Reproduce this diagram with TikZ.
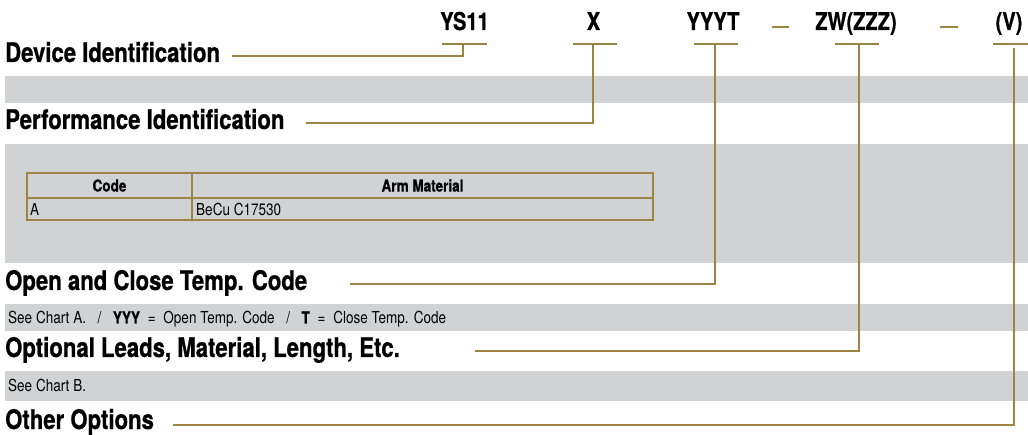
\documentclass[tikz,border=0pt]{standalone}
\usepackage{fontspec}
\setmainfont{TeX Gyre Heros}[FakeStretch=0.82, BoldFeatures={FakeBold=0.8}]
\definecolor{gold}{HTML}{9B8444}
\definecolor{bandgray}{HTML}{D1D2D4}
\newcommand{\gapsp}{\hspace{4pt}}
\begin{document}
\begin{tikzpicture}[x=1pt,y=-1pt,
  codetxt/.style={font=\fontsize{24.5}{28}\selectfont\bfseries, inner sep=0pt, anchor=base},
  headtxt/.style={font=\fontsize{27}{30}\selectfont\bfseries, inner sep=0pt, anchor=base west},
  smalltxt/.style={font=\fontsize{16.5}{19}\selectfont, inner sep=0pt, anchor=base west},
  celltxt/.style={font=\fontsize{16.5}{19}\selectfont, inner sep=0pt, anchor=west},
  tabhead/.style={font=\fontsize{16.5}{19}\selectfont\bfseries, inner sep=0pt},
  lead/.style={draw=gold, line width=2pt},
  bandbox/.style={fill=bandgray, draw=none}]
\useasboundingbox (0,0) rectangle (1028,435);
% gray bands
\fill[bandbox] (5,76) rectangle (1028,103);
\fill[bandbox] (5,144) rectangle (1028,263);
\fill[bandbox] (5,304) rectangle (1028,331);
\fill[bandbox] (5,371) rectangle (1028,401);
% top code
\node[codetxt] (ys) at (464.5,30) {YS11};
\node[codetxt] (xx) at (593.5,30) {X};
\node[codetxt] (yt) at (713,30) {YYYT};
\node[codetxt] (zw) at (856,30) {ZW(ZZZ)};
\node[codetxt] (vv) at (1009,30) {(V)};
\draw[lead] (772,27) -- (789,27);
\draw[lead] (940,27) -- (958,27);
% bars
\coordinate (ysT) at (463,44);
\coordinate (xT) at (593,44);
\coordinate (yT) at (715,44);
\coordinate (zT) at (859,44);
\coordinate (vT) at (1014,44);
\draw[lead] (442,44) -- (487,44);
\draw[lead] (573,44) -- (617,44);
\draw[lead] (694,44) -- (738,44);
\draw[lead] (835,44) -- (879,44);
\draw[lead] (993,44) -- (1030,44);
% headings
\node[headtxt] (h1) at (5,62) {Device Identification};
\node[headtxt] (h2) at (5,129) {Performance Identification};
\node[headtxt] (h3) at (5,290) {Open and Close Temp. Code};
\node[headtxt] (h4) at (5,357) {Optional Leads, Material, Length, Etc.};
\node[headtxt] (h5) at (5,429) {Other Options};
% leader ends
\coordinate (l1) at (232,56);
\coordinate (l2) at (306,123);
\coordinate (l3) at (350,284);
\coordinate (l4) at (475,351);
\coordinate (l5) at (173,425);
\draw[lead] (ysT) |- (l1);
\draw[lead] (xT) |- (l2);
\draw[lead] (yT) |- (l3);
\draw[lead] (zT) |- (l4);
\draw[lead] ([yshift=-4pt]vT) |- (l5);
% table
\draw[lead] (27,173) rectangle (653,220);
\draw[lead] (27,198) -- (653,198);
\draw[lead] (192,173) -- (192,220);
\node[tabhead] (c1) at (109.5,185.5) {Code};
\node[tabhead] (c2) at (422.5,185.5) {Arm Material};
\node[celltxt] (r1) at (30,209) {A};
\node[celltxt] (r2) at (196,209) {BeCu C17530};
% small texts
\node[smalltxt] (s1) at (8,323.5) {See Chart A.~~\gapsp/\gapsp~~\textbf{YYY}\gapsp{} = \gapsp{}Open Temp. Code~~\gapsp/\gapsp~~\textbf{T}\gapsp{} = \gapsp{}Close Temp. Code};
\node[smalltxt] (s2) at (8,391.5) {See Chart B.};
\end{tikzpicture}
\end{document}
